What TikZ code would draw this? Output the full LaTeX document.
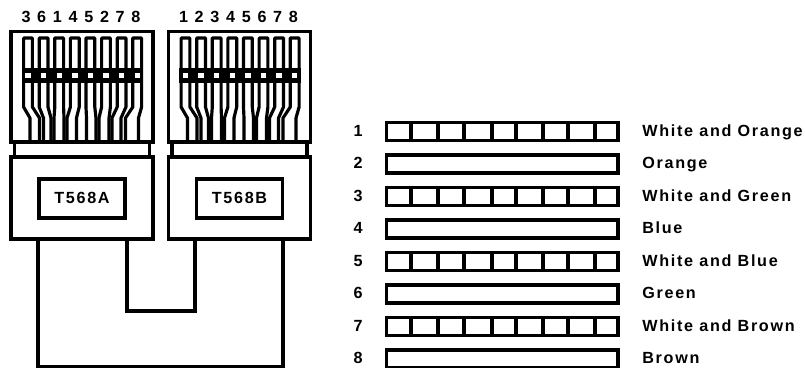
\documentclass[tikz,border=0pt]{standalone}
\usepackage{fontspec}
\setmainfont{Liberation Sans}
\newfontfamily\labelfont[LetterSpace=10.5]{Liberation Sans Bold}
\usetikzlibrary{calc}
\tikzset{
  heavy/.style={line width=1.95pt,line join=miter},
  contact/.style={line width=1.8pt,line join=round},
  tag/.style={font=\labelfont\fontsize{9.2}{11}\selectfont,inner sep=0pt,text height=.72em,text depth=.2em},
  plate/.style={draw,line width=1.95pt,inner sep=0pt,minimum width=1.72cm,minimum height=.78cm,tag},
}
\begin{document}
\begin{tikzpicture}[x=.02cm,y=-.02cm]
  \useasboundingbox (0,0) rectangle (805,368);
  % plugs
  \foreach \dx/\pins/\std in {0/{3,6,1,4,5,2,7,8}/A,157.5/{1,2,3,4,5,6,7,8}/B} {
    \begin{scope}[shift={(\dx,0)}]
    \draw[heavy] (11,31.5) rectangle (153,142);
    \draw[heavy] (14.5,142) rectangle (149.5,157);
    \draw[heavy] (11,157) rectangle (153,239);
    \node[plate] (label\std) at (82,198.5) {T568\std};
    \foreach \p [count=\i from 0] in \pins
      \node[tag] (digit\std\i) at (26+15.7*\i,18) {\p};
    \foreach \l/\r [count=\i from 0] in {30/39.5,43.5/51,54/64,67/76.5,86.5/96,99/109,112/121,125.5/138.5} {
      \pgfmathsetmacro\c{28+15.6*\i}
      \draw[contact] (\l,142) -- (\l,118) -- (\c-4.4,107) -- (\c-4.4,38) -- (\c+4.4,38) -- (\c+4.4,107) -- (\r,118) -- (\r,142);
    }
    \fill (21.5,68.5) rectangle (143,83);
    \foreach \i in {0,...,7} \fill[white] (28+15.6*\i-2.7,73.3) rectangle (28+15.6*\i+2.7,78.3);
    \end{scope}
  }
  % cable
  \coordinate (outerA) at (38,239); \coordinate (outerB) at (283,239);
  \coordinate (innerA) at (127,239); \coordinate (innerB) at (195,239);
  \draw[heavy] (outerA) |- (160,367) -| (outerB);
  \draw[heavy] (innerA) |- (160,311) -| (innerB);
  % colour code
  \foreach \n/\name in {1/White and Orange,2/Orange,3/White and Green,4/Blue,5/White and Blue,6/Green,7/White and Brown,8/Brown} {
    \pgfmathsetmacro\y{131.5+32.5*(\n-1)}
    \node[tag] (num\n) at (358,\y) {\n};
    \node[tag,anchor=west] (name\n) at (642,\y) {\name};
    \draw[heavy] (386.5,\y-9) rectangle (618,\y+9);
    \ifodd\n
      \foreach \s in {411,438,464,492,516,543,568,595} \draw[heavy] (\s,\y-9) -- (\s,\y+9);
    \fi
  }
\end{tikzpicture}
\end{document}
